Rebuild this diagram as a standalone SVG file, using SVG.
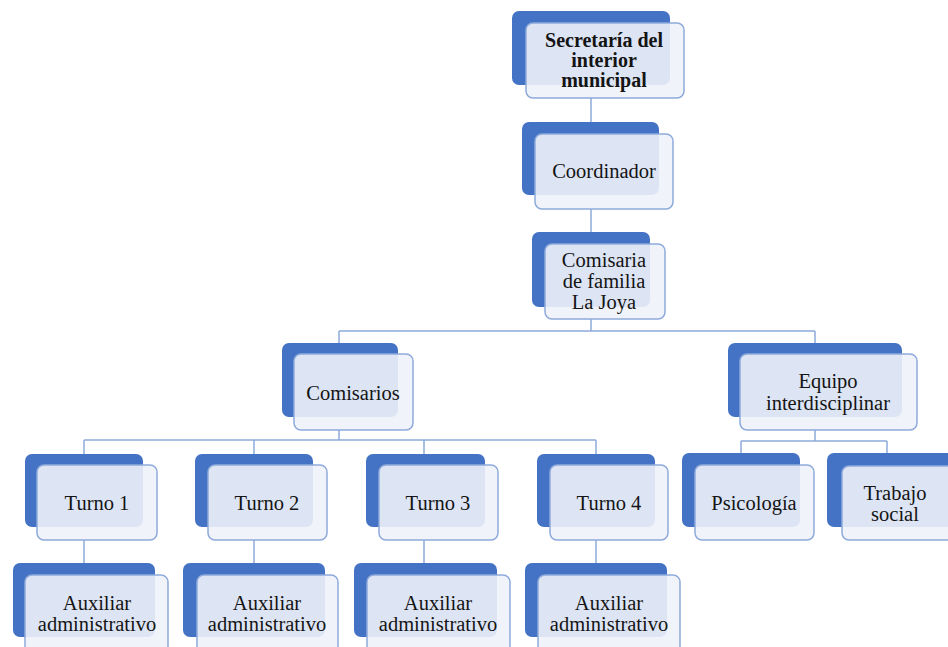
<svg xmlns="http://www.w3.org/2000/svg" width="948" height="647" viewBox="0 0 948 647">
<style>
.bk{fill:#4472c4;}
.fr{fill:#eef2f9;fill-opacity:0.9;stroke:#8eaadb;stroke-width:1.5;}
.t{font-family:"Liberation Serif","Times New Roman",serif;font-size:20.5px;fill:#141414;text-anchor:middle;}
.b{font-weight:bold;font-size:20px;}
.c{fill:none;stroke:#8eaadb;stroke-width:1.5;}
</style>
<rect width="948" height="647" fill="#ffffff"/>
<g id="connectors" class="c">
<path d="M591 98V122M591 209V232M591 319V331M339 331H815M339 331V343M815 331V343"/>
<path d="M339 430V440M84 440H596M84 440V454M254 440V454M424 440V454M596 440V454"/>
<path d="M815 430V441M741 441H887M741 441V453M887 441V453"/>
<path d="M84 540V563M254 540V563M424 540V563M596 540V563"/>
</g>
<g id="secretaria">
<rect class="bk" x="512" y="11" width="158" height="74" rx="7"/>
<rect class="fr" x="526" y="23" width="158" height="75" rx="7"/>
<text class="t b" x="604" y="47">Secretaría del</text>
<text class="t b" x="604" y="67">interior</text>
<text class="t b" x="604" y="87">municipal</text>
</g>
<g id="coordinador">
<rect class="bk" x="522" y="122" width="137" height="73" rx="7"/>
<rect class="fr" x="535" y="134" width="138" height="75" rx="7"/>
<text class="t" x="604" y="178">Coordinador</text>
</g>
<g id="comisaria">
<rect class="bk" x="532" y="232" width="118" height="75" rx="7"/>
<rect class="fr" x="545" y="244" width="120" height="75" rx="7"/>
<text class="t" x="604" y="266.5">Comisaria</text>
<text class="t" x="604" y="287.5">de familia</text>
<text class="t" x="604" y="308.5">La Joya</text>
</g>
<g id="comisarios">
<rect class="bk" x="282" y="343" width="116" height="74" rx="7"/>
<rect class="fr" x="294" y="354" width="119" height="76" rx="7"/>
<text class="t" x="353" y="400">Comisarios</text>
</g>
<g id="equipo">
<rect class="bk" x="728" y="343" width="174" height="74" rx="7"/>
<rect class="fr" x="740" y="354" width="177" height="76" rx="7"/>
<text class="t" x="828" y="388">Equipo</text>
<text class="t" x="828" y="410">interdisciplinar</text>
</g>
<g id="turno1">
<rect class="bk" x="25" y="454" width="118" height="73" rx="7"/>
<rect class="fr" x="37" y="465" width="120" height="75" rx="7"/>
<text class="t" x="97" y="510">Turno 1</text>
</g>
<g id="turno2">
<rect class="bk" x="195" y="454" width="118" height="73" rx="7"/>
<rect class="fr" x="208" y="465" width="119" height="75" rx="7"/>
<text class="t" x="267" y="510">Turno 2</text>
</g>
<g id="turno3">
<rect class="bk" x="366" y="454" width="119" height="73" rx="7"/>
<rect class="fr" x="379" y="465" width="119" height="75" rx="7"/>
<text class="t" x="438" y="510">Turno 3</text>
</g>
<g id="turno4">
<rect class="bk" x="537" y="454" width="118" height="73" rx="7"/>
<rect class="fr" x="550" y="465" width="118" height="75" rx="7"/>
<text class="t" x="609" y="510">Turno 4</text>
</g>
<g id="psicologia">
<rect class="bk" x="682" y="453" width="118" height="74" rx="7"/>
<rect class="fr" x="695" y="465" width="119" height="75" rx="7"/>
<text class="t" x="754" y="510">Psicología</text>
</g>
<g id="trabajo">
<rect class="bk" x="827" y="453" width="133" height="74" rx="7"/>
<rect class="fr" x="842" y="466" width="133" height="74" rx="7"/>
<text class="t" x="895" y="500">Trabajo</text>
<text class="t" x="895" y="521">social</text>
</g>
<g id="aux1">
<rect class="bk" x="13" y="563" width="142" height="74" rx="7"/>
<rect class="fr" x="25" y="575" width="143" height="85" rx="7"/>
<text class="t" x="97" y="610">Auxiliar</text>
<text class="t" x="97" y="631">administrativo</text>
</g>
<g id="aux2">
<rect class="bk" x="183" y="563" width="142" height="74" rx="7"/>
<rect class="fr" x="197" y="575" width="141" height="85" rx="7"/>
<text class="t" x="267" y="610">Auxiliar</text>
<text class="t" x="267" y="631">administrativo</text>
</g>
<g id="aux3">
<rect class="bk" x="354" y="563" width="143" height="74" rx="7"/>
<rect class="fr" x="367" y="575" width="143" height="85" rx="7"/>
<text class="t" x="438" y="610">Auxiliar</text>
<text class="t" x="438" y="631">administrativo</text>
</g>
<g id="aux4">
<rect class="bk" x="525" y="563" width="142" height="74" rx="7"/>
<rect class="fr" x="538" y="575" width="142" height="85" rx="7"/>
<text class="t" x="609" y="610">Auxiliar</text>
<text class="t" x="609" y="631">administrativo</text>
</g>
</svg>
